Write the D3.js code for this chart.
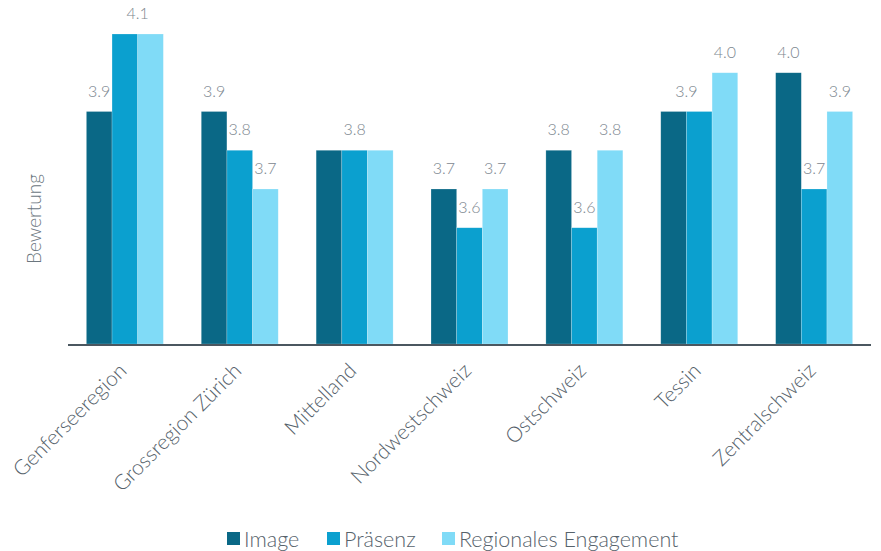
<!DOCTYPE html>
<html><head><meta charset="utf-8">
<script src="https://cdn.jsdelivr.net/npm/d3@7"></script>
<style>
body{margin:0;background:#fff;}
svg{font-family:Lato,"Open Sans",sans-serif;}
</style></head>
<body><svg id="c" width="881" height="551"></svg>
<script>
const categories = ["Genferseeregion","Grossregion Zürich","Mittelland","Nordwestschweiz","Ostschweiz","Tessin","Zentralschweiz"];
const seriesNames = ["Image","Präsenz","Regionales Engagement"];
const image = [3.9,3.9,3.8,3.7,3.8,3.9,4.0];
const praesenz = [4.1,3.8,3.8,3.6,3.6,3.9,3.7];
const regional = [4.1,3.7,3.8,3.7,3.8,4.0,3.9];
const colors = ["#0a6886","#0ba0cf","#80dbf7"];
const values = [image, praesenz, regional];

(function(){
const svg = d3.select("#c");
const left = 68, right = 871, base = 344, plotTop = 34;
const x = d3.scaleBand().domain(categories).range([left,right]).paddingInner(0.33).paddingOuter(0.16);
const xs = d3.scaleBand().domain(seriesNames).range([0,x.bandwidth()]);
const y = d3.scaleLinear().domain([3.3,4.1]).range([base,plotTop]);

const g = svg.append("g");
categories.forEach((c,i)=>{
  const grp = g.append("g").attr("transform",`translate(${x(c)},0)`);
  seriesNames.forEach((s,j)=>{
    grp.append("rect").attr("x",xs(s)).attr("width",xs.bandwidth())
      .attr("y",y(values[j][i])).attr("height",base-y(values[j][i]))
      .attr("fill",colors[j]).attr("stroke","rgba(255,255,255,0.35)").attr("stroke-width",0.6);
  });
  let j=0;
  while(j<seriesNames.length){
    let k=j;
    while(k+1<seriesNames.length && values[k+1][i]===values[j][i]) k++;
    const cx = (xs(seriesNames[j]) + xs(seriesNames[k]) + xs.bandwidth())/2;
    grp.append("text").attr("x",cx).attr("y",y(values[j][i])-15)
      .attr("text-anchor","middle").attr("font-size",16).attr("font-weight",300)
      .attr("fill","#7d878f").text(values[j][i].toFixed(1));
    j=k+1;
  }
});

svg.append("line").attr("x1",left).attr("x2",right).attr("y1",base+1).attr("y2",base+1)
  .attr("stroke","#4b5760").attr("stroke-width",2);

const xAxis = svg.append("g").attr("transform",`translate(0,${base+1})`)
  .call(d3.axisBottom(x).tickSize(0).tickPadding(0));
xAxis.select(".domain").remove();
xAxis.selectAll("text")
  .attr("font-family","Lato, sans-serif").attr("font-size",21).attr("font-weight",300)
  .attr("fill","#56626b").attr("text-anchor","end")
  .attr("dy",0).attr("y",0)
  .attr("transform","translate(3,27) rotate(-45)");

svg.append("text").attr("transform","translate(41,219) rotate(-90)")
  .attr("text-anchor","middle").attr("font-size",19).attr("font-weight",300)
  .attr("fill","#6b767e").text("Bewertung");

const legX = [227,327,442];
seriesNames.forEach((s,j)=>{
  const lg = svg.append("g").attr("transform",`translate(${legX[j]},532)`);
  lg.append("rect").attr("width",13).attr("height",13).attr("fill",colors[j]);
  lg.append("text").attr("x",17).attr("y",14.5).attr("font-size",21.5).attr("font-weight",300)
    .attr("fill","#56626b").text(s);
});
})();
</script></body></html>
